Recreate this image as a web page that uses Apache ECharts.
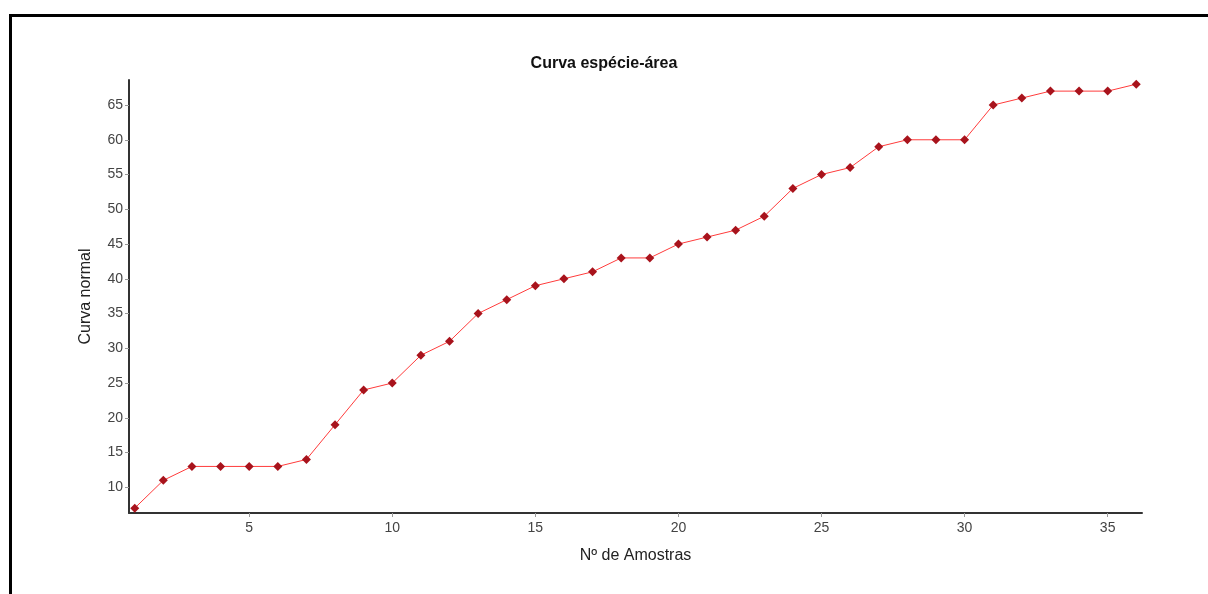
<!DOCTYPE html>
<html>
<head>
<meta charset="utf-8">
<script src="https://cdn.jsdelivr.net/npm/echarts@6/dist/echarts.min.js"></script>
<style>
html,body{margin:0;padding:0;background:#fff;overflow:hidden;}
#frame{position:absolute;left:9px;top:14px;width:1300px;height:700px;border-left:3px solid #000;border-top:3px solid #000;}
#chart{position:absolute;left:0;top:0;width:1208px;height:594px;}
</style>
</head>
<body>
<div id="frame"></div>
<div id="chart"></div>
<script>
const samples = [1,2,3,4,5,6,7,8,9,10,11,12,13,14,15,16,17,18,19,20,21,22,23,24,25,26,27,28,29,30,31,32,33,34,35,36];
const species = [7,11,13,13,13,13,14,19,24,25,29,31,35,37,39,40,41,43,43,45,46,47,49,53,55,56,59,60,60,60,65,66,67,67,67,68];
const xTicks = [5,10,15,20,25,30,35];
const yTicks = [10,15,20,25,30,35,40,45,50,55,60,65];

const chart = echarts.init(document.getElementById('chart'), null, {renderer:'canvas'});
chart.setOption({
  backgroundColor: 'transparent',
  animation: false,
  title: {
    text: 'Curva espécie-área',
    left: 'center',
    top: 51,
    textStyle: {fontFamily: 'Liberation Sans, Arial', fontWeight: 'bold', fontSize: 16, color: '#111'}
  },
  grid: {left: 129, right: 66, top: 80, bottom: 81, containLabel: false},
  xAxis: {
    type: 'value',
    min: 0.8, max: 36.2,
    name: 'Nº de Amostras',
    nameLocation: 'middle',
    nameGap: 35,
    nameTextStyle: {fontFamily: 'Liberation Sans, Arial', fontSize: 16, color: '#222'},
    axisLine: {show: true, lineStyle: {color: '#333', width: 2}},
    axisTick: {show: true, customValues: xTicks, length: 4, lineStyle: {color: '#999', width: 1}},
    axisLabel: {customValues: xTicks, fontFamily: 'Liberation Sans, Arial', fontSize: 14, color: '#444', margin: 8},
    splitLine: {show: false}
  },
  yAxis: {
    type: 'value',
    min: 6.3, max: 68.6,
    name: 'Curva normal',
    nameLocation: 'middle',
    nameGap: 35,
    nameRotate: 90,
    nameTextStyle: {fontFamily: 'Liberation Sans, Arial', fontSize: 16, color: '#222'},
    axisLine: {show: true, lineStyle: {color: '#333', width: 2}},
    axisTick: {show: true, customValues: yTicks, length: 4, lineStyle: {color: '#999', width: 1}},
    axisLabel: {customValues: yTicks, fontFamily: 'Liberation Sans, Arial', fontSize: 14, color: '#444', margin: 6},
    splitLine: {show: false}
  },
  series: [{
    type: 'line',
    data: samples.map((x, i) => [x, species[i]]),
    symbol: 'diamond',
    symbolSize: 9,
    lineStyle: {color: '#ff3b3b', width: 1},
    itemStyle: {color: '#a8131c'},
    z: 3
  }]
});
</script>
</body>
</html>
